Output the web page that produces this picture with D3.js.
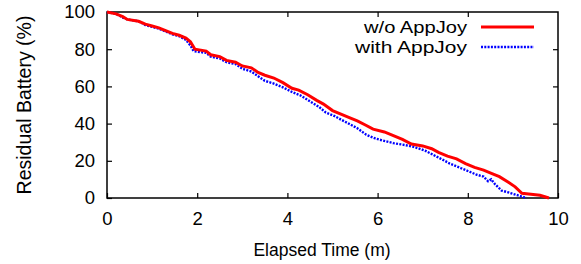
<!DOCTYPE html>
<html lang="en">
<head>
	<meta charset="utf-8">
	<title>battery</title>
	<style>
		body { margin: 0; background: #fff; }
		text { font-family: "Liberation Sans", Arial, sans-serif; fill: #000; }
	</style>
</head>
<body>
	<script src="https://cdn.jsdelivr.net/npm/d3@7"></script>
	<script>

		// elapsed time (m), residual battery (%)
		const withoutTime = [0, 0.2, 0.35, 0.45, 0.7, 0.85, 1.0, 1.15, 1.3, 1.45, 1.6, 1.75, 1.85, 1.95, 2.2, 2.3, 2.5, 2.65, 2.85, 3.0, 3.2, 3.35, 3.5, 3.7, 3.9, 4.1, 4.25, 4.45, 4.65, 4.8, 5.0, 5.2, 5.4, 5.55, 5.75, 5.9, 6.15, 6.35, 6.55, 6.75, 7.0, 7.2, 7.35, 7.55, 7.75, 7.95, 8.15, 8.35, 8.55, 8.7, 8.9, 9.05, 9.2, 9.4, 9.6, 9.8];
		const withoutBattery = [100, 99, 97.5, 96, 95, 93.5, 92.5, 91.5, 90, 88.5, 87.5, 86, 84, 80, 79, 77, 76, 74, 73, 71, 70, 67.5, 66, 64.5, 62, 59, 58, 55.5, 52.5, 50.5, 47, 45, 43, 41.5, 39, 37, 35.5, 33.5, 31.5, 29, 28, 26.5, 24.5, 22.5, 21, 18.5, 16.5, 15, 13, 11.5, 8.5, 6, 2.5, 2, 1.5, 0];

		const withTime = [0, 0.2, 0.35, 0.45, 0.7, 0.85, 1.0, 1.15, 1.3, 1.45, 1.6, 1.75, 1.85, 1.92, 2.2, 2.3, 2.5, 2.65, 2.85, 3.0, 3.2, 3.35, 3.5, 3.7, 3.9, 4.1, 4.3, 4.5, 4.7, 4.85, 5.05, 5.2, 5.4, 5.55, 5.75, 5.95, 6.1, 6.35, 6.6, 6.8, 7.05, 7.25, 7.45, 7.6, 7.85, 8.05, 8.2, 8.35, 8.45, 8.52, 8.6, 8.75, 8.9, 9.1, 9.3];
		const withBattery = [100, 99, 97, 96, 95, 93, 92, 91, 89.5, 88, 87, 85, 82, 79, 78, 76, 75, 73, 72, 69.5, 68, 65.5, 63, 61.5, 59.5, 57, 55, 52, 49, 46, 44, 42, 39.5, 37.5, 34, 32, 31, 29.5, 28.5, 27.5, 25.5, 23, 20.5, 18.5, 16, 14, 12.5, 11.5, 9, 10, 7.5, 4, 3, 1.5, 0];

		const xTicks = [0, 2, 4, 6, 8, 10];
		const yTicks = [0, 20, 40, 60, 80, 100];
		const seriesNames = ["w/o AppJoy", "with AppJoy"];

		const width = 581, height = 264;
		const margin = { top: 12, right: 23, bottom: 66, left: 107 };

		const svg = d3.select("body").append("svg")
			.attr("width", width)
			.attr("height", height);

		const x = d3.scaleLinear().domain([0, 10]).range([margin.left, width - margin.right]);
		const y = d3.scaleLinear().domain([0, 100]).range([height - margin.bottom, margin.top]);

		const tickLen = 5;
		const g = svg.append("g");

		// ticks on all four sides, pointing inward
		g.append("g").attr("transform", `translate(0,${y(0)})`)
			.call(d3.axisBottom(x).tickValues(xTicks).tickSizeInner(-tickLen).tickSizeOuter(0).tickPadding(14))
			.call(a => a.select(".domain").remove())
			.call(a => a.selectAll("text").attr("font-size", 18.5).attr("dy", "0.71em"));
		g.append("g").attr("transform", `translate(0,${y(100)})`)
			.call(d3.axisTop(x).tickValues(xTicks.slice(1, -1)).tickSizeInner(-tickLen).tickSizeOuter(0).tickFormat(""))
			.call(a => a.select(".domain").remove());
		g.append("g").attr("transform", `translate(${x(0)},0)`)
			.call(d3.axisLeft(y).tickValues(yTicks).tickSizeInner(-tickLen).tickSizeOuter(0).tickPadding(12))
			.call(a => a.select(".domain").remove())
			.call(a => a.selectAll("text").attr("font-size", 18.5));
		g.append("g").attr("transform", `translate(${x(10)},0)`)
			.call(d3.axisRight(y).tickValues(yTicks.slice(1, -1)).tickSizeInner(-tickLen).tickSizeOuter(0).tickFormat(""))
			.call(a => a.select(".domain").remove());
		g.selectAll(".tick line").attr("stroke", "#000").attr("stroke-width", 1.2);

		svg.append("rect")
			.attr("x", x(0)).attr("y", y(100))
			.attr("width", x(10) - x(0)).attr("height", y(0) - y(100))
			.attr("fill", "none").attr("stroke", "#000").attr("stroke-width", 1.5);

		const line = d3.line().x(d => x(d[0])).y(d => y(d[1]));

		svg.append("path")
			.datum(withTime.map((t, i) => [t, withBattery[i]]))
			.attr("d", line)
			.attr("fill", "none")
			.attr("stroke", "#0000ff")
			.attr("stroke-width", 2.4)
			.attr("stroke-dasharray", "2,1.3");

		svg.append("path")
			.datum(withoutTime.map((t, i) => [t, withoutBattery[i]]))
			.attr("d", line)
			.attr("fill", "none")
			.attr("stroke", "#ff0000")
			.attr("stroke-width", 3);

		// legend
		const legend = svg.append("g");
		const legendY = [27, 47];
		const legendLen = [103, 112];
		legend.selectAll("text").data(seriesNames).enter().append("text")
			.attr("x", 467).attr("y", (d, i) => legendY[i])
			.attr("dy", "0.35em")
			.attr("text-anchor", "end")
			.attr("font-size", 17)
			.attr("textLength", (d, i) => legendLen[i])
			.attr("lengthAdjust", "spacingAndGlyphs")
			.text(d => d);
		legend.append("line")
			.attr("x1", 481).attr("x2", 534).attr("y1", legendY[0]).attr("y2", legendY[0])
			.attr("stroke", "#ff0000").attr("stroke-width", 3);
		legend.append("line")
			.attr("x1", 481).attr("x2", 534).attr("y1", legendY[1]).attr("y2", legendY[1])
			.attr("stroke", "#0000ff").attr("stroke-width", 2.4).attr("stroke-dasharray", "2,1.3");

		// axis titles
		svg.append("text")
			.attr("x", 322).attr("y", 256)
			.attr("text-anchor", "middle")
			.attr("font-size", 17.5)
			.text("Elapsed Time (m)");
		svg.append("text")
			.attr("transform", "translate(31,105) rotate(-90)")
			.attr("text-anchor", "middle")
			.attr("font-size", 19.5)
			.text("Residual Battery (%)");

	</script>
</body>
</html>
